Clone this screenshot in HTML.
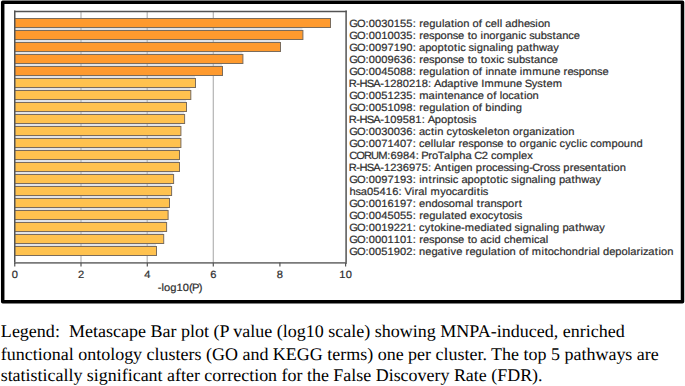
<!DOCTYPE html>
<html><head><meta charset="utf-8"><style>
html,body{margin:0;padding:0;background:#fff;}
body{width:685px;height:386px;overflow:hidden;}
svg{display:block;}
.t{font-family:"Liberation Sans",sans-serif;font-size:10.5px;fill:#2e2e2e;stroke:#2e2e2e;stroke-width:0.2px;text-rendering:geometricPrecision;}
.s{font-family:"Liberation Serif",serif;font-size:17.8px;fill:#000;text-rendering:geometricPrecision;}
</style></head><body>
<svg width="685" height="386" viewBox="0 0 685 386">
<rect x="15.0" y="28.0" width="287.40" height="2" fill="#e2e4e7"/>
<rect x="15.0" y="40.0" width="265.00" height="2" fill="#e2e4e7"/>
<rect x="15.0" y="52.0" width="227.40" height="2" fill="#e2e4e7"/>
<rect x="15.0" y="64.0" width="207.00" height="2" fill="#e2e4e7"/>
<rect x="15.0" y="76.0" width="180.00" height="2" fill="#e2e4e7"/>
<rect x="15.0" y="88.0" width="175.30" height="2" fill="#e2e4e7"/>
<rect x="15.0" y="100.0" width="171.00" height="2" fill="#e2e4e7"/>
<rect x="15.0" y="112.0" width="169.10" height="2" fill="#e2e4e7"/>
<rect x="15.0" y="124.0" width="165.40" height="2" fill="#e2e4e7"/>
<rect x="15.0" y="136.0" width="165.40" height="2" fill="#e2e4e7"/>
<rect x="15.0" y="148.0" width="164.00" height="2" fill="#e2e4e7"/>
<rect x="15.0" y="160.0" width="164.00" height="2" fill="#e2e4e7"/>
<rect x="15.0" y="172.0" width="158.10" height="2" fill="#e2e4e7"/>
<rect x="15.0" y="184.0" width="156.10" height="2" fill="#e2e4e7"/>
<rect x="15.0" y="196.0" width="154.00" height="2" fill="#e2e4e7"/>
<rect x="15.0" y="208.0" width="152.60" height="2" fill="#e2e4e7"/>
<rect x="15.0" y="220.0" width="151.10" height="2" fill="#e2e4e7"/>
<rect x="15.0" y="232.0" width="148.20" height="2" fill="#e2e4e7"/>
<rect x="15.0" y="244.0" width="141.00" height="2" fill="#e2e4e7"/>
<line x1="81.0" y1="11.5" x2="81.0" y2="262.5" stroke="#b4b4b4" stroke-width="1.2"/>
<line x1="147.2" y1="11.5" x2="147.2" y2="262.5" stroke="#b4b4b4" stroke-width="1.2"/>
<line x1="213.3" y1="11.5" x2="213.3" y2="262.5" stroke="#b4b4b4" stroke-width="1.2"/>
<rect x="14.5" y="18.5" width="316.00" height="9" fill="#fe9a2e" stroke="#7a6c5c" stroke-width="1"/>
<rect x="14.5" y="30.5" width="288.40" height="9" fill="#fe9a2e" stroke="#7a6c5c" stroke-width="1"/>
<rect x="14.5" y="42.5" width="266.00" height="9" fill="#fe9a2e" stroke="#7a6c5c" stroke-width="1"/>
<rect x="14.5" y="54.5" width="228.40" height="9" fill="#fe9a2e" stroke="#7a6c5c" stroke-width="1"/>
<rect x="14.5" y="66.5" width="208.00" height="9" fill="#fe9a2e" stroke="#7a6c5c" stroke-width="1"/>
<rect x="14.5" y="78.5" width="181.00" height="9" fill="#ffc24f" stroke="#7a6c5c" stroke-width="1"/>
<rect x="14.5" y="90.5" width="176.30" height="9" fill="#ffc24f" stroke="#7a6c5c" stroke-width="1"/>
<rect x="14.5" y="102.5" width="172.00" height="9" fill="#ffc24f" stroke="#7a6c5c" stroke-width="1"/>
<rect x="14.5" y="114.5" width="170.10" height="9" fill="#ffc24f" stroke="#7a6c5c" stroke-width="1"/>
<rect x="14.5" y="126.5" width="166.40" height="9" fill="#ffc24f" stroke="#7a6c5c" stroke-width="1"/>
<rect x="14.5" y="138.5" width="166.40" height="9" fill="#ffc24f" stroke="#7a6c5c" stroke-width="1"/>
<rect x="14.5" y="150.5" width="165.00" height="9" fill="#ffc24f" stroke="#7a6c5c" stroke-width="1"/>
<rect x="14.5" y="162.5" width="165.00" height="9" fill="#ffc24f" stroke="#7a6c5c" stroke-width="1"/>
<rect x="14.5" y="174.5" width="159.10" height="9" fill="#ffc24f" stroke="#7a6c5c" stroke-width="1"/>
<rect x="14.5" y="186.5" width="157.10" height="9" fill="#ffc24f" stroke="#7a6c5c" stroke-width="1"/>
<rect x="14.5" y="198.5" width="155.00" height="9" fill="#ffc24f" stroke="#7a6c5c" stroke-width="1"/>
<rect x="14.5" y="210.5" width="153.60" height="9" fill="#ffc24f" stroke="#7a6c5c" stroke-width="1"/>
<rect x="14.5" y="222.5" width="152.10" height="9" fill="#ffc24f" stroke="#7a6c5c" stroke-width="1"/>
<rect x="14.5" y="234.5" width="149.20" height="9" fill="#ffc24f" stroke="#7a6c5c" stroke-width="1"/>
<rect x="14.5" y="246.5" width="142.00" height="9" fill="#ffc24f" stroke="#7a6c5c" stroke-width="1"/>
<line x1="14" y1="11.5" x2="346.85" y2="11.5" stroke="#535353" stroke-width="1.3"/>
<line x1="14.75" y1="10.6" x2="14.75" y2="263.8" stroke="#535353" stroke-width="1.5"/>
<line x1="346.1" y1="10.6" x2="346.1" y2="263.8" stroke="#535353" stroke-width="1.5"/>
<line x1="14" y1="262.95" x2="346.85" y2="262.95" stroke="#7a7a7a" stroke-width="1.7"/>
<line x1="14.75" y1="262.5" x2="14.75" y2="266.6" stroke="#555" stroke-width="1.2"/>
<line x1="81.0" y1="262.5" x2="81.0" y2="266.6" stroke="#555" stroke-width="1.2"/>
<line x1="147.3" y1="262.5" x2="147.3" y2="266.6" stroke="#555" stroke-width="1.2"/>
<line x1="213.3" y1="262.5" x2="213.3" y2="266.6" stroke="#555" stroke-width="1.2"/>
<line x1="279.9" y1="262.5" x2="279.9" y2="266.6" stroke="#555" stroke-width="1.2"/>
<line x1="345.6" y1="262.5" x2="345.6" y2="266.6" stroke="#555" stroke-width="1.2"/>
<text transform="scale(1.06,1)" x="11.00" y="277.60" class="t">0</text>
<text transform="scale(1.06,1)" x="73.50" y="277.60" class="t">2</text>
<text transform="scale(1.06,1)" x="136.04" y="277.60" class="t">4</text>
<text transform="scale(1.06,1)" x="198.31" y="277.60" class="t">6</text>
<text transform="scale(1.06,1)" x="261.14" y="277.60" class="t">8</text>
<text transform="scale(1.06,1)" x="320.15 326.08" y="277.60" class="t">10</text>
<text transform="scale(1.06,1)" x="148.77 152.33 154.72 160.53 166.45 172.38 178.34 181.21 187.60" y="290.60" class="t">-log10(P)</text>
<text transform="scale(1.06,1)" x="329.57 336.85 344.71 347.79 353.72 359.65 365.58 371.51 377.44 383.37 389.36 392.42 395.52 399.14 404.96 410.87 416.88 419.27 425.42 428.83 431.22 437.03 442.92 445.80 451.75 454.87 457.75 462.88 468.80 471.39 473.87 476.75 482.56 488.47 494.30 499.89 505.07 507.46 513.26" y="26.60" class="t">GO:0030155: regulation of cell adhesion</text>
<text transform="scale(1.06,1)" x="329.57 336.85 344.71 347.79 353.72 359.65 365.58 371.51 377.44 383.37 389.36 392.42 395.52 399.14 404.73 409.82 415.63 421.43 427.11 432.11 437.92 441.23 444.44 450.24 453.31 455.80 461.61 467.55 471.25 477.06 482.87 488.87 491.27 496.48 499.23 504.31 510.22 515.91 521.33 524.55 530.36 536.17 541.30" y="38.60" class="t">GO:0010035: response to inorganic substance</text>
<text transform="scale(1.06,1)" x="329.57 336.85 344.71 347.79 353.72 359.65 365.58 371.51 377.44 383.37 389.36 392.42 395.29 401.11 406.92 412.73 418.97 422.19 428.33 431.74 434.14 439.35 442.10 447.28 449.78 455.69 461.50 467.40 469.99 472.49 478.40 484.30 487.28 493.09 499.24 502.56 508.45 515.99 521.90" y="50.60" class="t">GO:0097190: apoptotic signaling pathway</text>
<text transform="scale(1.06,1)" x="329.57 336.85 344.71 347.79 353.72 359.65 365.58 371.51 377.44 383.37 389.36 392.42 395.52 399.14 404.73 409.82 415.63 421.43 427.11 432.11 437.92 441.23 444.44 450.24 453.55 456.76 462.67 468.18 470.58 475.79 478.53 483.62 489.53 495.21 500.63 503.86 509.66 515.48 520.61" y="62.60" class="t">GO:0009636: response to toxic substance</text>
<text transform="scale(1.06,1)" x="329.57 336.85 344.71 347.79 353.72 359.65 365.58 371.51 377.44 383.37 389.36 392.42 395.52 399.14 404.96 410.87 416.88 419.27 425.42 428.83 431.22 437.03 442.92 445.80 451.75 454.87 457.94 460.44 466.34 472.15 478.30 481.53 487.34 490.41 493.04 502.12 511.06 516.97 522.79 528.60 531.71 535.32 540.91 546.00 551.81 557.62 563.29 568.29" y="74.60" class="t">GO:0045088: regulation of innate immune response</text>
<text transform="scale(1.06,1)" x="329.10 336.06 339.20 345.96 352.10 358.73 362.20 368.13 374.06 379.99 385.92 391.85 397.78 403.78 406.83 409.46 416.18 422.00 427.81 434.06 437.47 440.07 445.40 451.21 454.06 457.06 466.14 475.09 481.00 486.82 492.63 495.02 501.62 506.80 512.23 515.46 521.41" y="86.60" class="t">R-HSA-1280218: Adaptive Immune System</text>
<text transform="scale(1.06,1)" x="329.57 336.85 344.71 347.79 353.72 359.65 365.58 371.51 377.44 383.37 389.36 392.42 395.52 404.37 410.28 412.77 419.01 422.25 428.07 433.88 439.69 445.50 450.63 456.44 459.31 465.27 468.39 471.46 473.85 479.56 484.68 490.83 494.24 496.63 502.44" y="98.60" class="t">GO:0051235: maintenance of location</text>
<text transform="scale(1.06,1)" x="329.57 336.85 344.71 347.79 353.72 359.65 365.58 371.51 377.44 383.37 389.36 392.42 395.52 399.14 404.96 410.87 416.88 419.27 425.42 428.83 431.22 437.03 442.92 445.80 451.75 454.87 457.85 463.86 466.35 472.26 478.27 480.77 486.68" y="110.60" class="t">GO:0051098: regulation of binding</text>
<text transform="scale(1.06,1)" x="329.10 336.06 339.20 345.96 352.10 358.73 362.20 368.13 374.06 379.99 385.92 391.85 397.85 400.90 403.53 410.25 416.06 421.87 428.12 431.34 436.91 442.09 444.36" y="122.60" class="t">R-HSA-109581: Apoptosis</text>
<text transform="scale(1.06,1)" x="329.57 336.85 344.71 347.79 353.72 359.65 365.58 371.51 377.44 383.37 389.36 392.42 395.29 401.01 406.56 409.98 412.47 418.37 421.24 426.56 432.32 435.53 441.11 446.23 451.51 457.42 459.83 465.99 469.20 475.01 480.90 483.78 489.71 493.42 499.23 505.04 511.04 513.33 518.33 524.48 527.89 530.28 536.09" y="134.60" class="t">GO:0030036: actin cytoskeleton organization</text>
<text transform="scale(1.06,1)" x="329.57 336.85 344.71 347.79 353.72 359.65 365.58 371.51 377.44 383.37 389.36 392.42 395.29 400.43 406.34 408.93 411.43 417.43 419.83 425.77 429.46 432.57 436.18 441.77 446.86 452.67 458.47 464.15 469.15 474.96 478.27 481.49 487.28 490.15 496.09 499.79 505.61 511.42 517.42 519.82 525.03 527.90 533.23 538.55 543.86 546.45 548.85 554.06 556.94 562.06 567.99 576.94 582.75 588.56 594.47 600.38" y="146.60" class="t">GO:0071407: cellular response to organic cyclic compound</text>
<text transform="scale(1.06,1)" x="329.51 336.14 343.33 349.98 356.83 365.34 368.41 374.34 380.27 386.20 392.20 395.25 397.50 403.98 407.58 412.99 418.98 424.88 427.38 433.29 439.10 444.90 447.30 454.39 460.30 463.18 468.30 474.23 483.19 489.19 491.60 497.52" y="158.60" class="t">CORUM:6984: ProTalpha C2 complex</text>
<text transform="scale(1.06,1)" x="329.10 336.06 339.20 345.96 352.10 358.73 362.20 368.13 374.06 379.99 385.92 391.85 397.78 403.78 406.83 409.46 416.18 422.42 425.84 428.34 434.16 439.98 445.88 448.86 454.90 458.50 464.21 469.34 474.93 479.79 484.97 487.46 493.38 499.19 502.08 509.29 512.89 518.46 523.32 528.40 531.37 537.42 541.03 546.62 551.62 557.44 563.69 566.91 573.05 576.47 578.86 584.66" y="170.60" class="t">R-HSA-1236975: Antigen processing-Cross presentation</text>
<text transform="scale(1.06,1)" x="329.57 336.85 344.71 347.79 353.72 359.65 365.58 371.51 377.44 383.37 389.36 392.42 395.48 397.98 404.22 407.68 411.47 413.96 419.64 424.82 427.22 432.43 435.31 441.12 446.93 452.74 458.99 462.20 468.34 471.76 474.16 479.37 482.11 487.29 489.79 495.70 501.51 507.42 510.01 512.50 518.41 524.31 527.29 533.11 539.25 542.57 548.46 556.00 561.91" y="182.60" class="t">GO:0097193: intrinsic apoptotic signaling pathway</text>
<text transform="scale(1.06,1)" x="329.75 335.43 340.42 346.24 352.17 358.10 364.03 369.96 375.96 379.01 381.63 388.45 391.08 394.68 400.59 403.07 406.18 415.22 420.54 426.25 431.37 437.31 441.02 447.02 449.85 453.27 455.53" y="194.60" class="t">hsa05416: Viral myocarditis</text>
<text transform="scale(1.06,1)" x="329.57 336.85 344.71 347.79 353.72 359.65 365.58 371.51 377.44 383.37 389.36 392.42 395.30 401.12 407.04 412.85 418.42 423.40 429.34 438.19 444.10 446.58 449.89 453.34 456.94 462.75 468.43 473.52 479.33 485.27 489.30" y="206.60" class="t">GO:0016197: endosomal transport</text>
<text transform="scale(1.06,1)" x="329.57 336.85 344.71 347.79 353.72 359.65 365.58 371.51 377.44 383.37 389.36 392.42 395.52 399.14 404.96 410.87 416.88 419.27 425.42 428.65 434.48 440.38 443.26 449.18 454.50 460.21 465.53 471.28 474.50 480.07 485.25 487.52" y="218.60" class="t">GO:0045055: regulated exocytosis</text>
<text transform="scale(1.06,1)" x="329.57 336.85 344.71 347.79 353.72 359.65 365.58 371.51 377.44 383.37 389.36 392.42 395.29 400.61 406.37 409.58 415.43 420.88 423.38 429.20 434.92 438.51 447.37 453.20 459.21 461.60 467.75 470.98 476.81 482.71 485.45 490.63 493.13 499.04 504.85 510.76 513.35 515.84 521.75 527.65 530.63 536.45 542.59 545.91 551.80 559.34 565.25" y="230.60" class="t">GO:0019221: cytokine-mediated signaling pathway</text>
<text transform="scale(1.06,1)" x="329.57 336.85 344.71 347.79 353.72 359.65 365.58 371.51 377.44 383.37 389.36 392.42 395.52 399.14 404.73 409.82 415.63 421.43 427.11 432.11 437.92 441.23 444.44 450.24 453.11 458.83 464.14 466.64 472.54 475.42 480.64 486.46 492.42 501.46 503.86 508.98 514.88" y="242.60" class="t">GO:0001101: response to acid chemical</text>
<text transform="scale(1.06,1)" x="329.57 336.85 344.71 347.79 353.72 359.65 365.58 371.51 377.44 383.37 389.36 392.42 395.39 401.21 407.04 412.85 418.99 422.41 425.00 430.33 436.14 439.25 442.86 448.69 454.60 460.60 463.00 469.14 472.56 474.95 480.76 486.65 489.52 495.48 498.60 501.71 510.75 513.58 516.79 522.50 527.72 533.53 539.33 545.25 551.29 555.08 557.48 563.39 565.87 568.85 574.67 580.50 586.31 592.21 594.61 600.55 604.34 606.62 611.63 617.78 621.19 623.58 629.39" y="254.60" class="t">GO:0051902: negative regulation of mitochondrial depolarization</text>
<rect x="2.7" y="2.2" width="679.8" height="299.5" fill="none" stroke="#000" stroke-width="3.5" stroke-linejoin="round"/>
<text x="0.88" y="337" class="s" textLength="623.84" lengthAdjust="spacingAndGlyphs" xml:space="preserve">Legend:  Metascape Bar plot (P value (log10 scale) showing MNPA-induced, enriched</text>
<text x="0.85" y="359.7" class="s" textLength="657.97" lengthAdjust="spacingAndGlyphs" xml:space="preserve">functional ontology clusters (GO and KEGG terms) one per cluster. The top 5 pathways are</text>
<text x="0.66" y="381.4" class="s" textLength="541.92" lengthAdjust="spacingAndGlyphs" xml:space="preserve">statistically significant after correction for the False Discovery Rate (FDR).</text>
</svg>
</body></html>
